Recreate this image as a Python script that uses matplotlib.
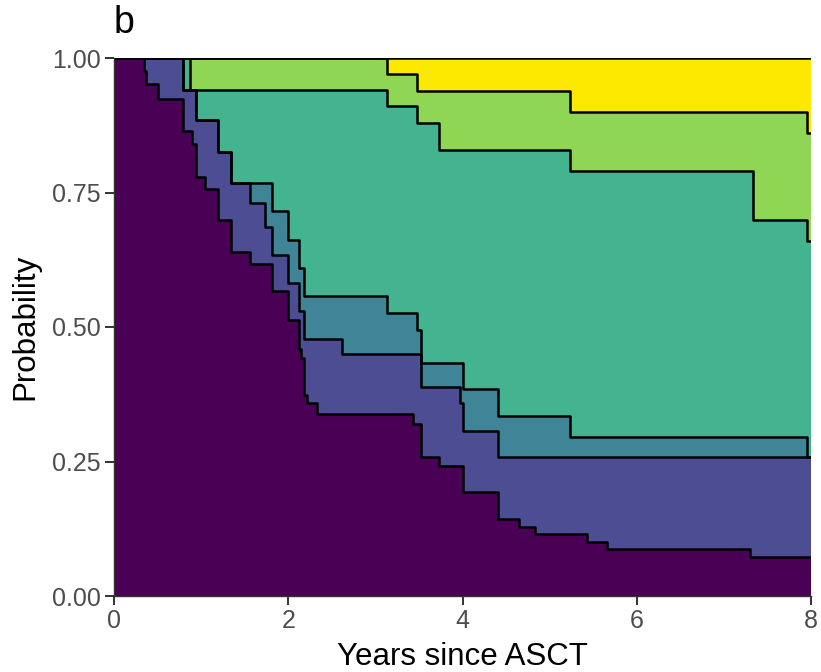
import numpy as np
import matplotlib
matplotlib.use("Agg")
import matplotlib.pyplot as plt

plt.rcParams['font.family'] = ['Liberation Sans', 'DejaVu Sans']

# event times (years since ASCT), each value holds until the next time
times = [0.00, 0.34, 0.37, 0.51, 0.79, 0.87, 0.90, 0.94, 1.05, 1.19,
         1.34, 1.56, 1.73, 1.81, 2.00, 2.12, 2.15, 2.18, 2.22, 2.33,
         2.62, 3.13, 3.43, 3.48, 3.52, 3.73, 3.97, 4.01, 4.41, 4.65,
         4.83, 5.23, 5.43, 5.66, 7.30, 7.33, 7.95, 8.00]

# cumulative upper bound of each state (stacked from the bottom)
state1 = [1.000, 0.975, 0.952, 0.924, 0.865, 0.865, 0.840, 0.779, 0.756, 0.698,
          0.640, 0.618, 0.618, 0.566, 0.513, 0.460, 0.442, 0.374, 0.358, 0.338,
          0.338, 0.338, 0.320, 0.320, 0.259, 0.242, 0.242, 0.193, 0.143, 0.129,
          0.115, 0.115, 0.101, 0.087, 0.072, 0.072, 0.072, 0.072]
state2 = [1.000, 1.000, 1.000, 1.000, 0.940, 0.940, 0.940, 0.885, 0.885, 0.826,
          0.767, 0.730, 0.686, 0.634, 0.581, 0.529, 0.529, 0.477, 0.477, 0.477,
          0.449, 0.449, 0.449, 0.449, 0.389, 0.389, 0.358, 0.307, 0.258, 0.258,
          0.258, 0.258, 0.258, 0.258, 0.258, 0.258, 0.258, 0.258]
state3 = [1.000, 1.000, 1.000, 1.000, 0.940, 0.940, 0.940, 0.885, 0.885, 0.826,
          0.767, 0.767, 0.767, 0.716, 0.662, 0.609, 0.609, 0.558, 0.558, 0.558,
          0.558, 0.526, 0.526, 0.494, 0.434, 0.434, 0.434, 0.385, 0.335, 0.335,
          0.335, 0.296, 0.296, 0.296, 0.296, 0.296, 0.258, 0.258]
state4 = [1.000, 1.000, 1.000, 1.000, 1.000, 0.940, 0.940, 0.940, 0.940, 0.940,
          0.940, 0.940, 0.940, 0.940, 0.940, 0.940, 0.940, 0.940, 0.940, 0.940,
          0.940, 0.911, 0.911, 0.879, 0.879, 0.829, 0.829, 0.829, 0.829, 0.829,
          0.829, 0.790, 0.790, 0.790, 0.790, 0.699, 0.660, 0.660]
state5 = [1.000, 1.000, 1.000, 1.000, 1.000, 1.000, 1.000, 1.000, 1.000, 1.000,
          1.000, 1.000, 1.000, 1.000, 1.000, 1.000, 1.000, 1.000, 1.000, 1.000,
          1.000, 0.971, 0.971, 0.939, 0.939, 0.939, 0.939, 0.939, 0.939, 0.939,
          0.939, 0.900, 0.900, 0.900, 0.900, 0.900, 0.861, 0.861]
state6 = [1.0] * len(times)

colors = ['#4a0055', '#4c4d93', '#3f8597', '#44b38f', '#8ed654', '#fde800']

t = np.array(times)
bounds = [np.zeros_like(t)] + [np.array(s) for s in
                               (state1, state2, state3, state4, state5, state6)]

fig = plt.figure(figsize=(8.21, 6.72), dpi=100)
ax = fig.add_axes([114 / 821, 1 - 596 / 672, 697 / 821, 538 / 672])

for i in range(6):
    ax.fill_between(t, bounds[i], bounds[i + 1], step='post',
                    color=colors[i], lw=0, zorder=1)
for i in range(1, 7):
    ax.step(t, bounds[i], where='post', color='black', lw=1.8, zorder=2)

ax.set_xlim(0, 8)
ax.set_ylim(0, 1)
ax.set_xticks([0, 2, 4, 6, 8])
ax.set_yticks([0, 0.25, 0.5, 0.75, 1.0])
ax.set_yticklabels(['0.00', '0.25', '0.50', '0.75', '1.00'])
for s in ['top', 'right']:
    ax.spines[s].set_visible(False)
for s in ['left', 'bottom']:
    ax.spines[s].set_color('#333333')
    ax.spines[s].set_linewidth(1.0)
    ax.spines[s].set_zorder(3)
ax.tick_params(length=6.5, width=1.4, color='#333333', labelcolor='#4d4d4d',
               labelsize=18, pad=3)

fig.text(33 / 821, 1 - 327 / 672, 'Probability', rotation=90,
         rotation_mode='anchor', ha='center', va='baseline', fontsize=22.5)
fig.text(462 / 821, 1 - 665 / 672, 'Years since ASCT', ha='center',
         va='baseline', fontsize=22.5)
fig.text(114 / 821, 1 - 33 / 672, 'b', ha='left', va='baseline', fontsize=27)

fig.savefig('out.png', dpi=100)
